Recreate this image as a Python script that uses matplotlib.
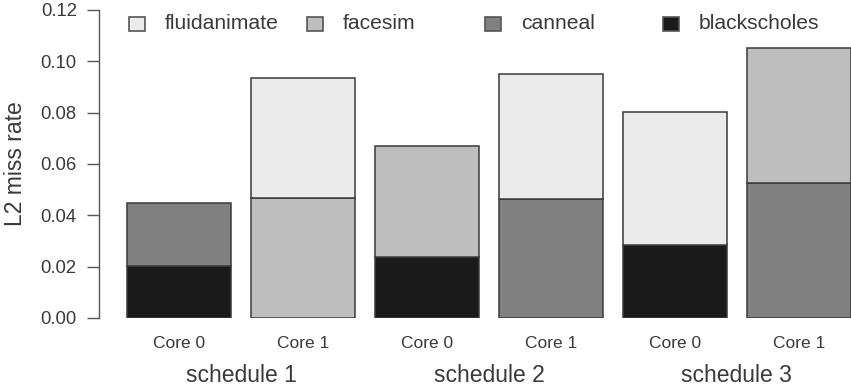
import numpy as np
import matplotlib
matplotlib.use("Agg")
import matplotlib.pyplot as plt
from matplotlib.patches import Rectangle
import matplotlib.transforms as mtransforms

plt.rcParams["font.family"] = ["Liberation Sans", "DejaVu Sans"]

# data (one value per bar, zero = not on that core)
core_labels = ["Core 0", "Core 1", "Core 0", "Core 1", "Core 0", "Core 1"]
schedules = ["schedule 1", "schedule 2", "schedule 3"]
blackscholes = [0.0204, 0.0, 0.0236, 0.0, 0.0286, 0.0]
canneal = [0.0245, 0.0, 0.0, 0.0464, 0.0, 0.0527]
facesim = [0.0, 0.0469, 0.0434, 0.0, 0.0, 0.0526]
fluidanimate = [0.0, 0.0467, 0.0, 0.0488, 0.0515, 0.0]

series = [
    ("blackscholes", blackscholes, "#1a1a1a"),
    ("canneal", canneal, "#808080"),
    ("facesim", facesim, "#bebebe"),
    ("fluidanimate", fluidanimate, "#ebebeb"),
]

txt = "#3a3a3a"
edge = "#3a3a3a"

fig = plt.figure(figsize=(8.51, 3.9), dpi=100)
ax = fig.add_axes([106.7 / 851, 1 - 318 / 390, 743.8 / 851, 308 / 390])

x = 0.7 + 1.2 * np.arange(len(core_labels))
bottom = np.zeros(len(core_labels))
for name, vals, col in series:
    vals = np.array(vals)
    m = vals > 0
    ax.bar(x[m], vals[m], width=1.0, bottom=bottom[m], color=col,
           edgecolor=edge, linewidth=1.1)
    bottom += vals

ax.set_xlim(0, 7.2)
ax.set_ylim(0, 0.12)

for s in ["top", "right", "bottom"]:
    ax.spines[s].set_visible(False)
ax.spines["left"].set_position(("outward", 5.5))
ax.spines["left"].set_color("#555555")
ax.spines["left"].set_linewidth(1.0)

ax.set_yticks(np.arange(0, 0.121, 0.02))
ax.set_yticklabels([f"{v:.2f}" for v in np.arange(0, 0.121, 0.02)])
ax.tick_params(axis="y", length=8.6, width=1.0, color="#555555", pad=7.5,
               labelsize=13.3, labelcolor=txt)
ax.set_xticks(x)
ax.set_xticklabels(core_labels)
ax.tick_params(axis="x", length=0, pad=13, labelsize=12.5, labelcolor=txt)

ax.set_ylabel("L2 miss rate", fontsize=16.5, color=txt, labelpad=10)

trans = mtransforms.blended_transform_factory(ax.transData, ax.transAxes)
for i, s in enumerate(schedules):
    ax.text((x[2 * i] + x[2 * i + 1]) / 2, -0.188, s, transform=trans,
            ha="center", va="center", fontsize=16.5, color=txt)

# legend drawn by hand, equal spacing like the original
leg_items = [("fluidanimate", "#ebebeb"), ("facesim", "#bebebe"),
             ("canneal", "#808080"), ("blackscholes", "#1a1a1a")]
for i, (name, col) in enumerate(leg_items):
    px = 137 + 178 * i
    fx = (px - 106.7) / 743.8
    fy = (318 - 23.5) / 308
    w = 16 / 743.8
    h = 14 / 308
    ax.add_patch(Rectangle((fx - w / 2, fy - h / 2), w, h, transform=ax.transAxes,
                           facecolor=col, edgecolor="#555555", linewidth=1.2,
                           clip_on=False))
    ax.text(fx + 28 / 743.8, fy, name, transform=ax.transAxes, ha="left",
            va="center", fontsize=15.2, color=txt)

fig.savefig("out.png", dpi=100)
